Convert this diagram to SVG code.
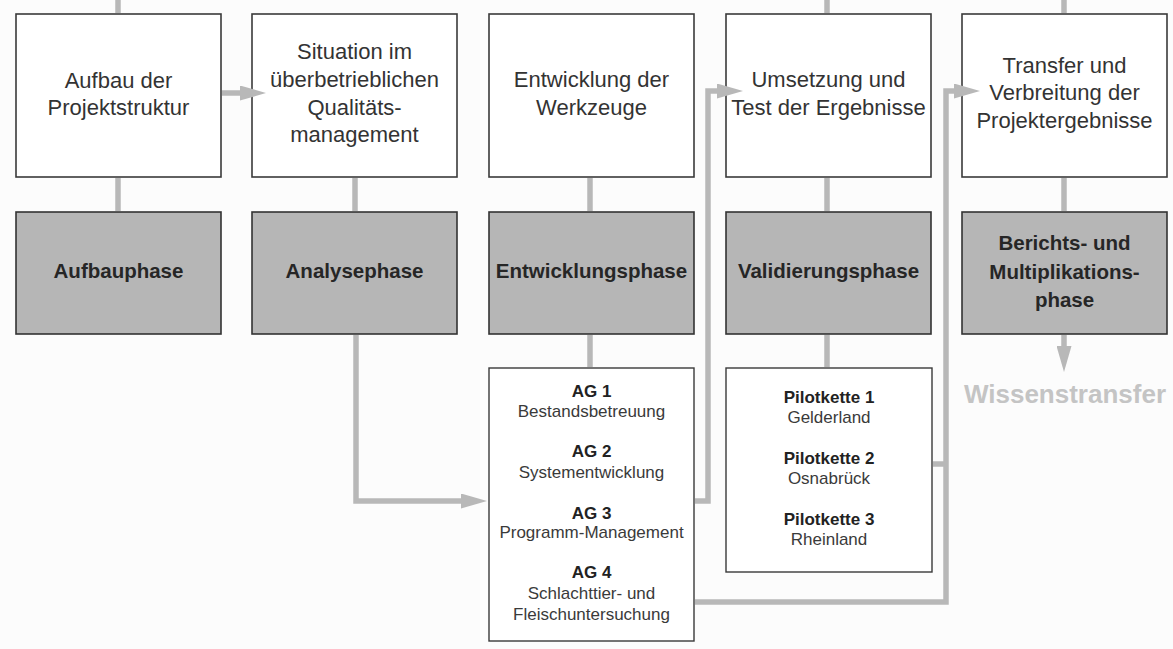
<svg xmlns="http://www.w3.org/2000/svg" width="1173" height="649" viewBox="0 0 1173 649">
  <defs>
    <style>
      .bg { fill: #fcfcfc; }
      .task { fill: #ffffff; stroke: #3a3a3a; stroke-width: 1.6; }
      .phase { fill: #b6b6b6; stroke: #333333; stroke-width: 1.6; }
      .list { fill: #ffffff; stroke: #3a3a3a; stroke-width: 1.4; }
      .conn { fill: none; stroke: #b8b8b8; stroke-width: 5.5; }
      .t { font-family: "Liberation Sans", Arial, sans-serif; font-size: 22px; fill: #333333; text-anchor: middle; }
      .p { font-family: "Liberation Sans", Arial, sans-serif; font-size: 20.5px; font-weight: bold; fill: #262626; text-anchor: middle; }
      .h { font-family: "Liberation Sans", Arial, sans-serif; font-size: 17px; font-weight: bold; fill: #222222; text-anchor: middle; }
      .s { font-family: "Liberation Sans", Arial, sans-serif; font-size: 17px; fill: #3a3a3a; text-anchor: middle; }
      .w { font-family: "Liberation Sans", Arial, sans-serif; font-size: 26px; font-weight: bold; fill: #c4c4c4; text-anchor: middle; }
    </style>
    <marker id="arrow" markerUnits="userSpaceOnUse" viewBox="0 0 26 15" markerWidth="26" markerHeight="15" refX="0" refY="7.5" orient="auto">
      <path d="M0,0 L26,7.5 L0,15 Z" fill="#b8b8b8"/>
    </marker>
  </defs>

  <rect class="bg" x="0" y="0" width="1173" height="649"/>

  <!-- task boxes -->
  <g id="task-aufbau">
    <rect class="task" x="16" y="14" width="205" height="163"/>
    <text class="t" x="118.5" y="88">Aufbau der</text>
    <text class="t" x="118.5" y="115">Projektstruktur</text>
  </g>
  <g id="task-situation">
    <rect class="task" x="252" y="14" width="205" height="163"/>
    <text class="t" x="354.5" y="59">Situation im</text>
    <text class="t" x="354.5" y="87">überbetrieblichen</text>
    <text class="t" x="354.5" y="115">Qualitäts-</text>
    <text class="t" x="354.5" y="142">management</text>
  </g>
  <g id="task-entwicklung">
    <rect class="task" x="489" y="14" width="205" height="163"/>
    <text class="t" x="591.5" y="87">Entwicklung der</text>
    <text class="t" x="591.5" y="115">Werkzeuge</text>
  </g>
  <g id="task-umsetzung">
    <rect class="task" x="726" y="14" width="205" height="163"/>
    <text class="t" x="828.5" y="87">Umsetzung und</text>
    <text class="t" x="828.5" y="115">Test der Ergebnisse</text>
  </g>
  <g id="task-transfer">
    <rect class="task" x="962" y="14" width="205" height="163"/>
    <text class="t" x="1064.5" y="73">Transfer und</text>
    <text class="t" x="1064.5" y="100">Verbreitung der</text>
    <text class="t" x="1064.5" y="128">Projektergebnisse</text>
  </g>

  <!-- phase boxes -->
  <g id="phase-aufbau">
    <rect class="phase" x="16" y="212" width="205" height="122"/>
    <text class="p" x="118.5" y="278">Aufbauphase</text>
  </g>
  <g id="phase-analyse">
    <rect class="phase" x="252" y="212" width="205" height="122"/>
    <text class="p" x="354.5" y="278">Analysephase</text>
  </g>
  <g id="phase-entwicklung">
    <rect class="phase" x="489" y="212" width="205" height="122"/>
    <text class="p" x="591.5" y="278">Entwicklungsphase</text>
  </g>
  <g id="phase-validierung">
    <rect class="phase" x="726" y="212" width="205" height="122"/>
    <text class="p" x="828.5" y="278">Validierungsphase</text>
  </g>
  <g id="phase-bericht">
    <rect class="phase" x="962" y="212" width="205" height="122"/>
    <text class="p" x="1064.5" y="250">Berichts- und</text>
    <text class="p" x="1064.5" y="279">Multiplikations-</text>
    <text class="p" x="1064.5" y="307">phase</text>
  </g>

  <!-- working groups -->
  <g id="arbeitsgruppen">
    <rect class="list" x="489" y="368" width="205" height="273"/>
    <text class="h" x="591.5" y="397">AG 1</text>
    <text class="s" x="591.5" y="417">Bestandsbetreuung</text>
    <text class="h" x="591.5" y="457">AG 2</text>
    <text class="s" x="591.5" y="478">Systementwicklung</text>
    <text class="h" x="591.5" y="519">AG 3</text>
    <text class="s" x="591.5" y="538">Programm-Management</text>
    <text class="h" x="591.5" y="578">AG 4</text>
    <text class="s" x="591.5" y="599">Schlachttier- und</text>
    <text class="s" x="591.5" y="620">Fleischuntersuchung</text>
  </g>

  <!-- pilot chains -->
  <g id="pilotketten">
    <rect class="list" x="726" y="368" width="206" height="204"/>
    <text class="h" x="829" y="403">Pilotkette 1</text>
    <text class="s" x="829" y="423">Gelderland</text>
    <text class="h" x="829" y="464">Pilotkette 2</text>
    <text class="s" x="829" y="484">Osnabrück</text>
    <text class="h" x="829" y="525">Pilotkette 3</text>
    <text class="s" x="829" y="545">Rheinland</text>
  </g>

  <!-- outcome label -->
  <g id="wissenstransfer">
    <text class="w" x="1065" y="403">Wissenstransfer</text>
  </g>

  <!-- connectors, drawn last so the arrowheads sit over the box edges -->
  <g id="connectors">
    <!-- stubs leaving the top edge -->
    <line class="conn" x1="118" y1="0" x2="118" y2="13"/>
    <line class="conn" x1="827" y1="0" x2="827" y2="13"/>
    <line class="conn" x1="1064" y1="0" x2="1064" y2="13"/>
    <!-- task box to phase box -->
    <line class="conn" x1="118" y1="178" x2="118" y2="211"/>
    <line class="conn" x1="355" y1="178" x2="355" y2="211"/>
    <line class="conn" x1="590" y1="178" x2="590" y2="211"/>
    <line class="conn" x1="827" y1="178" x2="827" y2="211"/>
    <line class="conn" x1="1064" y1="178" x2="1064" y2="211"/>
    <!-- phase box to detail box -->
    <line class="conn" x1="590" y1="335" x2="590" y2="367"/>
    <line class="conn" x1="827" y1="335" x2="827" y2="367"/>
    <!-- Aufbau -> Situation -->
    <path class="conn" d="M222,93 L240,93" marker-end="url(#arrow)"/>
    <!-- Analysephase -> AG box -->
    <path class="conn" d="M356,335 L356,501 L461,501" marker-end="url(#arrow)"/>
    <!-- AG box -> Umsetzung -->
    <path class="conn" d="M695,501 L708,501 L708,91 L717,91" marker-end="url(#arrow)"/>
    <!-- AG 4 / Pilotketten -> Transfer -->
    <path class="conn" d="M695,602 L946,602 L946,91 L954,91" marker-end="url(#arrow)"/>
    <line class="conn" x1="933" y1="464" x2="946" y2="464"/>
    <!-- Berichtsphase -> Wissenstransfer -->
    <path class="conn" d="M1064,335 L1064,346" marker-end="url(#arrow)"/>
  </g>
</svg>
